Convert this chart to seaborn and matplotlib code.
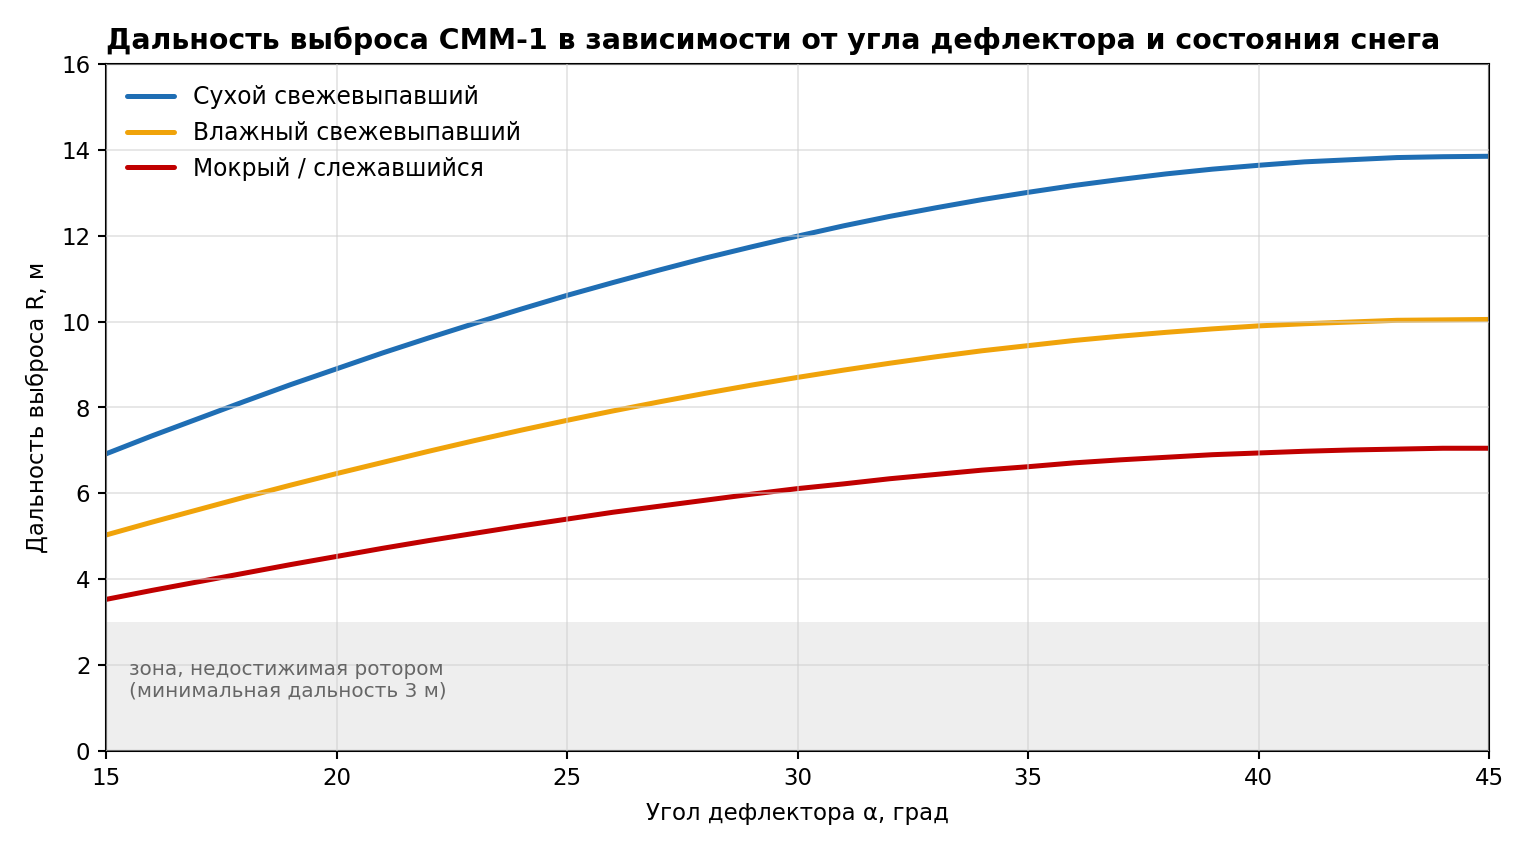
import matplotlib
matplotlib.use("Agg")
import matplotlib.pyplot as plt
import seaborn as sns
import pandas as pd

# угол дефлектора, град
angle = list(range(15, 46))

# дальность выброса по состояниям снега, м
dry = [6.92, 7.34, 7.74, 8.14, 8.53, 8.90, 9.27, 9.62, 9.96, 10.29, 10.61,
       10.91, 11.20, 11.48, 11.74, 11.99, 12.23, 12.45, 12.65, 12.84, 13.01,
       13.17, 13.31, 13.44, 13.55, 13.64, 13.72, 13.77, 13.82, 13.84, 13.85]
moist = [5.03, 5.33, 5.62, 5.91, 6.19, 6.46, 6.72, 6.98, 7.23, 7.47, 7.70,
         7.92, 8.13, 8.33, 8.52, 8.70, 8.87, 9.03, 9.18, 9.32, 9.44,
         9.56, 9.66, 9.75, 9.83, 9.90, 9.95, 9.99, 10.03, 10.04, 10.05]
wet = [3.53, 3.74, 3.94, 4.14, 4.34, 4.53, 4.72, 4.90, 5.07, 5.24, 5.40,
       5.56, 5.70, 5.84, 5.98, 6.11, 6.22, 6.34, 6.44, 6.54, 6.62,
       6.71, 6.78, 6.84, 6.90, 6.94, 6.98, 7.01, 7.03, 7.05, 7.05]

labels = ["Сухой свежевыпавший", "Влажный свежевыпавший", "Мокрый / слежавшийся"]
colors = ["#1f6eb4", "#f0a30a", "#c00000"]

df = pd.concat([
    pd.DataFrame({"angle": angle, "R": dry, "snow": labels[0]}),
    pd.DataFrame({"angle": angle, "R": moist, "snow": labels[1]}),
    pd.DataFrame({"angle": angle, "R": wet, "snow": labels[2]}),
])

sns.set_style("ticks")
plt.rcParams["font.family"] = ["DejaVu Sans"]
plt.rcParams["text.color"] = "black"
plt.rcParams["axes.labelcolor"] = "black"
plt.rcParams["xtick.color"] = "black"
plt.rcParams["ytick.color"] = "black"
plt.rcParams["axes.edgecolor"] = "black"

fig, ax = plt.subplots(figsize=(10.2, 5.667), dpi=150)
fig.subplots_adjust(left=0.0693, right=0.9732, top=0.9247, bottom=0.1165)

ax.axhspan(0, 3, color="#eeeeee", zorder=0, lw=0)
ax.text(15.5, 1.65, "зона, недостижимая ротором\n(минимальная дальность 3 м)",
        fontsize=9.6, color="#666666", va="center", ha="left")

sns.lineplot(data=df, x="angle", y="R", hue="snow", palette=colors,
             linewidth=2.4, ax=ax)

ax.set_xlim(15, 45)
ax.set_ylim(0, 16)
ax.set_xticks([15, 20, 25, 30, 35, 40, 45])
ax.set_yticks(range(0, 17, 2))
ax.grid(True, color="#d0d0d0", linewidth=0.8, alpha=0.6)
ax.set_axisbelow(False)
for line in ax.get_xgridlines() + ax.get_ygridlines():
    line.set_zorder(0.5)

ax.tick_params(labelsize=11, width=1.0, length=4)
ax.set_xlabel("Угол дефлектора α, град", fontsize=11, labelpad=6)
ax.set_ylabel("Дальность выброса R, м", fontsize=11, labelpad=6)
ax.set_title("Дальность выброса СММ-1 в зависимости от угла дефлектора и состояния снега",
             fontsize=13.6, fontweight="bold", loc="left", pad=7)
for s in ax.spines.values():
    s.set_visible(True)
    s.set_linewidth(1.0)
    s.set_color("black")

ax.legend(title=None, frameon=False, fontsize=11.3, loc="upper left")

plt.savefig("out.png", dpi=150)
